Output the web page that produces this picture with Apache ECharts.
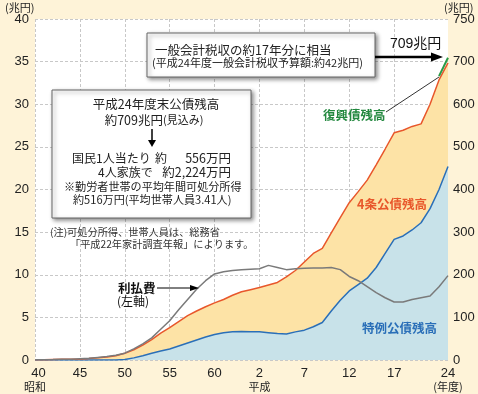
<!DOCTYPE html>
<html><head><meta charset="utf-8">
<script src="https://cdn.jsdelivr.net/npm/echarts@6/dist/echarts.min.js"></script>
<style>html,body{margin:0;padding:0;background:#fef3d8;}#c{width:478px;height:394px;}</style>
</head><body><div id="c"></div>
<script>
// Fiscal years (昭和40 … 平成24), as spaced in the source chart
const fiscalYears = ['40','41','42','43','44','45','46','47','48','49','50','51','52','53','54','55','56','57','58','59','60','61','62','63','元','2','3','4','5','6','7','8','9','10','11','12','13','14','15','16','17','18','19','20','21','22','24'];
const shownTicks = ['40','45','50','55','60','2','7','12','17','24'];
// 特例公債残高 (兆円, right axis)
const deficitBonds = [0,0,0,0,0,0,0,0,0,0, 1,5,10,16,21,26,33,40,47,54, 60,64,66,67,66,66,64,62,61,66, 70,78,88,115,140,162,177,192,217,250, 283,291,305,322,355,400,454];
// 4条公債残高 (兆円, right axis, stacked on 特例)
const constructionBonds = [0.3,0.8,1.2,1.6,2,2.5,3.5,5,7,10, 15,19,25,32,42,50,57,64,68,71, 74,78,86,93,99,104,112,120,134,144, 160,172,174,183,194,207,218,230,241,245, 250,248,243,232,245,257,243];
// 復興債残高 (兆円, right axis, stacked)
const reconstructionBonds = [null,null,null,null,null,null,null,null,null,null, null,null,null,null,null,null,null,null,null,null, null,null,null,null,null,null,null,null,null,null, null,null,null,null,null,null,null,null,null,null, null,null,null,null,null,9,12];
// 利払費 (兆円, left axis)
const interestPayments = [0.02,0.03,0.05,0.08,0.1,0.15,0.2,0.3,0.4,0.55, 0.8,1.3,1.9,2.6,3.6,4.6,5.9,7.1,8.3,9.3, 10.1,10.35,10.5,10.6,10.65,10.7,11.1,10.85,10.6,10.7, 10.75,10.8,10.8,10.85,10.6,9.8,9.3,8.6,7.9,7.3, 6.8,6.8,7.1,7.3,7.5,8.6,9.9];
const leftTicks = {min:0, max:40, interval:5};
const rightTicks = {min:0, max:800, interval:100, topLabel:'750'};

const NUM = "'Liberation Sans', 'Noto Sans CJK JP', sans-serif";
const JP = "'Noto Sans CJK JP', 'Liberation Sans', sans-serif";
const chart = echarts.init(document.getElementById('c'), null, {renderer:'canvas'});

function txt(x, y, text, size, opts) {
  opts = opts || {};
  return {type:'text', x:x, y:y, z:100, style:{text:text, fill:opts.fill||'#222', align:opts.align||'left', verticalAlign:'middle',
    font:(opts.weight||'normal')+' '+size+'px '+(opts.family||JP)}};
}
function line(x1,y1,x2,y2,w,c){return {type:'line', z:100, shape:{x1:x1,y1:y1,x2:x2,y2:y2}, style:{stroke:c||'#000', lineWidth:w}};}
function tri(points){return {type:'polygon', z:100, shape:{points:points}, style:{fill:'#000'}};}

const option = {
  backgroundColor:'#fef3d8',
  animation:false,
  grid:{left:35, right:30, top:19, bottom:33, show:true, backgroundColor:'#ffffff', borderWidth:0},
  xAxis:{type:'category', data:fiscalYears, boundaryGap:false, z:3,
    axisLine:{show:false}, axisTick:{show:false},
    axisLabel:{interval:(i,v)=>shownTicks.includes(v), margin:6, color:'#222', fontSize:13, fontFamily:NUM, lineHeight:15,
      formatter:(v)=>{ if(v==='40') return '{p|40}\n{s|昭和}'; if(v==='2') return '{n|2}\n{s|平成}'; if(v==='24') return '{n|24}\n{s|(年度)}'; return '{n|'+v+'}'; },
      rich:{n:{fontSize:13, fontFamily:NUM, color:'#222', lineHeight:14}, p:{fontSize:13, fontFamily:NUM, color:'#222', lineHeight:14, padding:[0,0,0,7]}, s:{fontSize:11, fontFamily:JP, color:'#222', lineHeight:14}}},
    splitLine:{show:true, interval:(i,v)=>shownTicks.includes(v) && v!=='24', lineStyle:{color:'#c8c8c8', type:[3,2], width:1}}
  },
  yAxis:[
    {type:'value', min:leftTicks.min, max:leftTicks.max, interval:leftTicks.interval, position:'left', z:3,
      axisLine:{show:false}, axisTick:{show:false},
      axisLabel:{color:'#222', fontSize:13, fontFamily:NUM, margin:6},
      splitLine:{show:true, lineStyle:{color:'#c8c8c8', type:[3,2], width:1}}},
    {type:'value', min:rightTicks.min, max:rightTicks.max, interval:rightTicks.interval, position:'right',
      axisLine:{show:false}, axisTick:{show:false},
      axisLabel:{color:'#222', fontSize:13, fontFamily:NUM, margin:5, formatter:(v)=> v===rightTicks.max ? rightTicks.topLabel : String(v)},
      splitLine:{show:false}}
  ],
  series:[
    {name:'特例公債残高', type:'line', yAxisIndex:1, stack:'debt', data:deficitBonds, symbol:'none',
      lineStyle:{color:'#2a6fb8', width:1.5}, areaStyle:{color:'#c8e2e9', opacity:1}},
    {name:'4条公債残高', type:'line', yAxisIndex:1, stack:'debt', data:constructionBonds, symbol:'none',
      lineStyle:{color:'#e8572b', width:1.5}, areaStyle:{color:'#fde3a6', opacity:1}},
    {name:'復興債残高', type:'line', yAxisIndex:1, stack:'debt', data:reconstructionBonds, symbol:'none',
      lineStyle:{color:'#2a9a46', width:2}},
    {name:'利払費', type:'line', yAxisIndex:0, data:interestPayments, symbol:'none', z:5,
      lineStyle:{color:'#7a7a7a', width:1.5}}
  ],
  graphic:[
    txt(5, 8, '(兆円)', 11),
    txt(444, 8, '(兆円)', 11),
    // top box
    {type:'rect', z:90, shape:{x:147, y:33, width:228, height:44}, style:{fill:'#fff', stroke:'#666', lineWidth:1, shadowBlur:4, shadowOffsetX:2, shadowOffsetY:2, shadowColor:'rgba(0,0,0,0.45)'}},
    txt(155, 50, '一般会計税収の約17年分に相当', 12.5),
    txt(152, 63, '(平成24年度一般会計税収予算額:約42兆円)', 11),
    line(375, 57, 432, 57, 2.5),
    tri([[431,52.5],[443,57],[431,61.5]]),
    txt(390, 44, '709兆円', 14, {family:NUM, fill:'#111'}),
    // main box
    {type:'rect', z:90, shape:{x:52, y:90, width:199, height:128}, style:{fill:'#fff', stroke:'#666', lineWidth:1, shadowBlur:4, shadowOffsetX:2, shadowOffsetY:2, shadowColor:'rgba(0,0,0,0.45)'}},
    txt(156, 104, '平成24年度末公債残高', 12.5, {align:'center'}),
    {type:'text', x:154, y:120, z:100, style:{text:'{a|約709兆円}{b|(見込み)}', align:'center', verticalAlign:'middle',
      rich:{a:{font:'12.5px '+JP, fill:'#222'}, b:{font:'11px '+JP, fill:'#222'}}}},
    line(152, 129, 152, 141, 1.5),
    tri([[148,140],[156,140],[152,147]]),
    txt(72, 158, '国民1人当たり', 12),
    txt(155, 158, '約', 12),
    txt(231, 158, '556万円', 12.5, {align:'right'}),
    txt(98, 172, '4人家族で', 12),
    txt(231, 172, '約2,224万円', 12.5, {align:'right'}),
    txt(64, 187, '※勤労者世帯の平均年間可処分所得', 11.1),
    txt(73, 200, '約516万円(平均世帯人員3.41人)', 11.1),
    // note
    txt(50, 232, '(注)可処分所得、世帯人員は、総務省', 10.2, {fill:'#333'}),
    txt(70, 244, '「平成22年家計調査年報」によります。', 10.2, {fill:'#333'}),
    // interest label
    txt(118, 288, '利払費', 12.5, {weight:'bold', fill:'#111'}),
    txt(117, 301, '(左軸)', 12, {fill:'#111'}),
    line(157, 288, 192, 288, 1),
    tri([[190,285],[199,288],[190,291]]),
    // series labels
    txt(357, 204, '4条公債残高', 12.5, {weight:'bold', fill:'#e8572b'}),
    txt(362, 328, '特例公債残高', 12.5, {weight:'bold', fill:'#2a6fb8'}),
    txt(323, 115, '復興債残高', 12.5, {weight:'bold', fill:'#23883f'}),
    line(386, 112, 439, 77, 0.8)
  ]
};
chart.setOption(option);
</script></body></html>
